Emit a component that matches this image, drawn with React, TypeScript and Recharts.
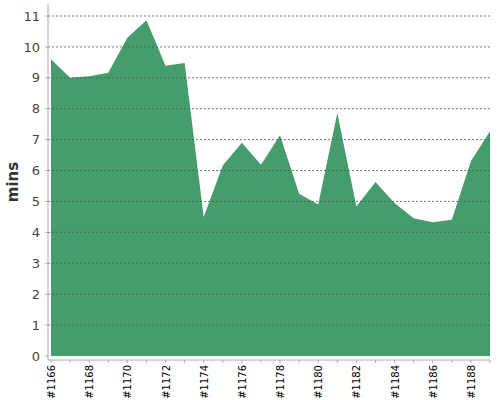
import { AreaChart, Area, XAxis, YAxis, ReferenceLine } from 'recharts';

const builds = ['#1166', '#1167', '#1168', '#1169', '#1170', '#1171', '#1172', '#1173', '#1174', '#1175', '#1176', '#1177', '#1178', '#1179', '#1180', '#1181', '#1182', '#1183', '#1184', '#1185', '#1186', '#1187', '#1188', '#1189'];
const mins = [9.6, 9.0, 9.05, 9.16, 10.3, 10.86, 9.39, 9.48, 4.5, 6.16, 6.9, 6.19, 7.14, 5.25, 4.9, 7.86, 4.84, 5.63, 4.95, 4.46, 4.33, 4.41, 6.3, 7.27];
const yTicks = [0, 1, 2, 3, 4, 5, 6, 7, 8, 9, 10, 11];

const data = builds.map((b, i) => ({ build: b, mins: mins[i] }));

const FONT = '"DejaVu Sans", sans-serif';

const BuildTick = (props: any) => {
  const { x, y, payload, index } = props;
  if (index % 2 !== 0) return null;
  return (
    <text
      x={x}
      y={y}
      transform={`rotate(-90 ${x} ${y})`}
      textAnchor="end"
      dy={4}
      fontSize={10}
      fontFamily={FONT}
      fill="#000"
    >
      {payload.value}
    </text>
  );
};

export default function App() {
  return (
    <div style={{ position: 'absolute', left: 0, top: 0 }}>
      <AreaChart width={500} height={400} data={data} margin={{ top: 4, right: 10, bottom: 0, left: 0 }}>
        <XAxis
          dataKey="build"
          interval={0}
          tick={<BuildTick />}
          tickSize={3}
          height={40}
          padding={{ left: 3, right: 0 }}
          stroke="#aaa"
        />
        <YAxis
          domain={[0, 11]}
          ticks={yTicks}
          width={48}
          tickSize={3}
          tickMargin={5}
          padding={{ top: 12, bottom: 4 }}
          stroke="#aaa"
          tick={{ fontSize: 13, fill: '#444', fontFamily: FONT }}
          label={{ value: 'mins', angle: -90, position: 'insideLeft', offset: 13, style: { fontSize: 15, fontWeight: 600, fill: '#333', fontFamily: FONT, textAnchor: 'middle' } }}
        />
        <Area
          type="linear"
          dataKey="mins"
          stroke="none"
          fill="#459d6d"
          fillOpacity={1}
          isAnimationActive={false}
        />
        {yTicks.slice(1).map((t) => (
          <ReferenceLine key={t} y={t} stroke="#555" strokeDasharray="2 2" strokeOpacity={0.8} />
        ))}
      </AreaChart>
    </div>
  );
}
